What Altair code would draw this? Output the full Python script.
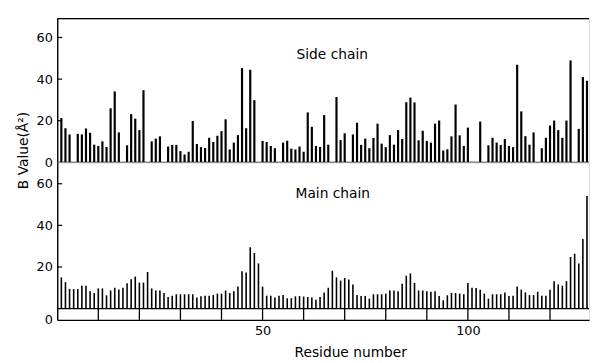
import altair as alt
import pandas as pd

# ---- data (B values, Å²) ----
residues = list(range(1, 130))

side_chain = [21.3, 16.4, 13.4, None, 13.7, 13.4, 16.3, 14.2, 8.5, 7.9,
              10.1, 7.4, 26.0, 34.1, 14.4, None, 8.2, 23.2, 21.0, 15.5,
              34.7, None, 10.1, 11.4, 12.5, None, 7.6, 8.4, 8.4, 5.4,
              3.8, 5.1, 19.9, 8.8, 7.3, 6.9, 11.8, 9.8, 12.8, 15.0,
              20.7, 6.2, 9.5, 13.1, 45.3, 16.4, 44.5, 29.9, None, 10.3,
              9.8, 7.9, 6.8, None, 9.5, 10.4, 6.6, 6.2, 7.6, 5.1,
              24.0, 17.1, 7.9, 7.4, 22.7, 8.5, None, 31.4, 10.7, 14.0,
              None, 13.4, 19.0, 8.4, 11.4, 6.8, 11.7, 18.6, 9.0, 7.3,
              13.1, 8.5, 15.5, 11.2, 28.9, 31.1, 28.8, 10.6, 15.2, 10.3,
              9.5, 18.6, 20.1, 5.7, 6.3, 12.5, 27.8, 13.0, 7.9, 16.7,
              None, None, 19.6, None, 8.2, 11.8, 9.5, 8.4, 11.2, 7.9,
              7.3, 46.9, 24.5, 12.6, 8.5, 14.4, None, 6.8, 11.8, 17.7,
              20.1, 15.5, 11.8, 20.1, 49.0, None, 16.1, 41.0, 39.2]

main_chain = [15.0, 12.7, 9.5, 9.4, 9.4, 11.0, 11.0, 8.4, 7.5, 9.7,
              9.7, 6.4, 8.7, 10.0, 9.2, 10.0, 12.2, 14.1, 15.4, 12.5,
              12.5, 17.6, 9.7, 8.7, 8.7, 7.5, 5.6, 6.2, 6.9, 6.9,
              6.9, 6.9, 6.9, 5.3, 5.9, 6.2, 6.2, 6.5, 7.2, 7.2,
              8.7, 7.5, 8.4, 10.6, 17.9, 17.4, 29.5, 26.7, 21.7, 10.6,
              6.2, 6.2, 5.3, 6.2, 6.5, 5.0, 5.0, 5.9, 6.0, 5.8,
              5.6, 5.3, 4.3, 5.6, 7.8, 10.0, 18.2, 15.0, 13.5, 14.7,
              14.0, 11.6, 6.5, 6.1, 6.1, 4.8, 6.9, 6.9, 6.9, 7.2,
              8.7, 8.7, 8.4, 11.9, 15.8, 16.9, 12.3, 8.7, 8.7, 8.4,
              8.1, 8.4, 6.1, 4.0, 6.4, 7.5, 7.5, 7.2, 6.9, 12.3,
              10.0, 9.9, 9.1, 7.2, 4.8, 6.9, 6.9, 6.9, 7.8, 6.1,
              6.2, 10.6, 9.1, 7.8, 6.5, 6.5, 8.1, 6.2, 6.2, 9.1,
              13.2, 11.6, 11.0, 13.2, 24.8, 26.4, 21.7, 33.5, 54.1]

x_tick_values = [10, 20, 30, 40, 50, 60, 70, 80, 90, 100, 110, 120]
x_label_values = [50, 100]
y_tick_values = [20, 40, 60]
top_y_labels = [0, 20, 40, 60]

FONT = "DejaVu Sans"
W = 540
H_TOP = 146
H_BOT = 160
BOT_AXIS_LOW = -5.44  # bottom edge of the x-axis box below the zero line

side_df = pd.DataFrame({"residue": residues, "value": side_chain}).dropna()
main_df = pd.DataFrame({"residue": residues, "value": main_chain})
ytick_df = pd.DataFrame({"t": y_tick_values})
xtick_df = pd.DataFrame({"t": x_tick_values})
one = pd.DataFrame({"a": [0]})

x_scale = alt.Scale(domain=[0, 129.5], nice=False, zero=False)
top_scale = alt.Scale(domain=[0, 69.1], nice=False)
bot_scale = alt.Scale(domain=[BOT_AXIS_LOW, 70.28], nice=False)

yaxis_common = dict(domain=True, domainColor="black", domainWidth=1.4,
                    ticks=False, grid=False, labelPadding=5,
                    labelFont=FONT, labelFontSize=13, labelColor="black",
                    title=None)

# ---------------- top panel: side chain ----------------
top_bars = alt.Chart(side_df).mark_rule(color="black", strokeWidth=2.2).encode(
    x=alt.X("residue:Q", scale=x_scale, axis=None),
    y=alt.Y("value:Q", scale=top_scale,
            axis=alt.Axis(values=top_y_labels, **yaxis_common)),
    y2=alt.datum(0),
)
top_base = alt.Chart(one).mark_rule(color="black", strokeWidth=1.4).encode(
    y=alt.datum(0))
top_border = alt.Chart(one).mark_rule(color="black", strokeWidth=1.2).encode(
    y=alt.value(0))
top_ticks = alt.Chart(ytick_df).mark_rule(color="black", strokeWidth=1.2).encode(
    y="t:Q", x=alt.value(0), x2=alt.value(5))
side_label = alt.Chart(one).mark_text(
    align="left", baseline="alphabetic", font=FONT, fontSize=14, color="black"
).encode(x=alt.value(243), y=alt.value(41), text=alt.value("Side chain"))
y_title = alt.Chart(one).mark_text(
    align="center", baseline="middle", angle=270, font=FONT, fontSize=14,
    color="black"
).encode(x=alt.value(-34), y=alt.value(134), text=alt.value("B Value(Å²)"))

top = alt.layer(top_bars, top_base, top_border, top_ticks, side_label, y_title
                ).properties(width=W, height=H_TOP)

# ---------------- bottom panel: main chain ----------------
bot_bars = alt.Chart(main_df).mark_rule(color="black", strokeWidth=1.6).encode(
    x=alt.X("residue:Q", scale=x_scale,
            axis=alt.Axis(values=x_label_values, domain=True,
                          domainColor="black", domainWidth=1.4, ticks=False,
                          grid=False, labelPadding=5, labelFont=FONT,
                          labelFontSize=13, labelColor="black", title=None)),
    y=alt.Y("value:Q", scale=bot_scale,
            axis=alt.Axis(values=[BOT_AXIS_LOW] + y_tick_values,
                          labelExpr="datum.value < 0 ? '0' : datum.label",
                          **yaxis_common)),
    y2=alt.datum(0),
)
bot_base = alt.Chart(one).mark_rule(color="black", strokeWidth=1.4).encode(
    y=alt.datum(0))
bot_yticks = alt.Chart(ytick_df).mark_rule(color="black", strokeWidth=1.2).encode(
    y="t:Q", x=alt.value(0), x2=alt.value(5))
bot_xticks = alt.Chart(xtick_df).mark_rule(color="black", strokeWidth=1.3).encode(
    x="t:Q", y=alt.datum(0), y2=alt.datum(BOT_AXIS_LOW))
main_label = alt.Chart(one).mark_text(
    align="left", baseline="alphabetic", font=FONT, fontSize=14, color="black"
).encode(x=alt.value(242), y=alt.value(36), text=alt.value("Main chain"))
x_title = alt.Chart(one).mark_text(
    align="center", baseline="alphabetic", font=FONT, fontSize=14, color="black"
).encode(x=alt.value(298), y=alt.value(198), text=alt.value("Residue number"))

bottom = alt.layer(bot_bars, bot_base, bot_yticks, bot_xticks, main_label, x_title
                   ).properties(width=W, height=H_BOT)

chart = alt.vconcat(top, bottom, spacing=0, bounds="flush").properties(
    padding={"left": 8, "top": 6, "right": 0, "bottom": 0}
).configure_view(stroke=None).configure(font=FONT, background="white")

chart.save("out.html", embed_options={"renderer": "svg", "actions": False})
